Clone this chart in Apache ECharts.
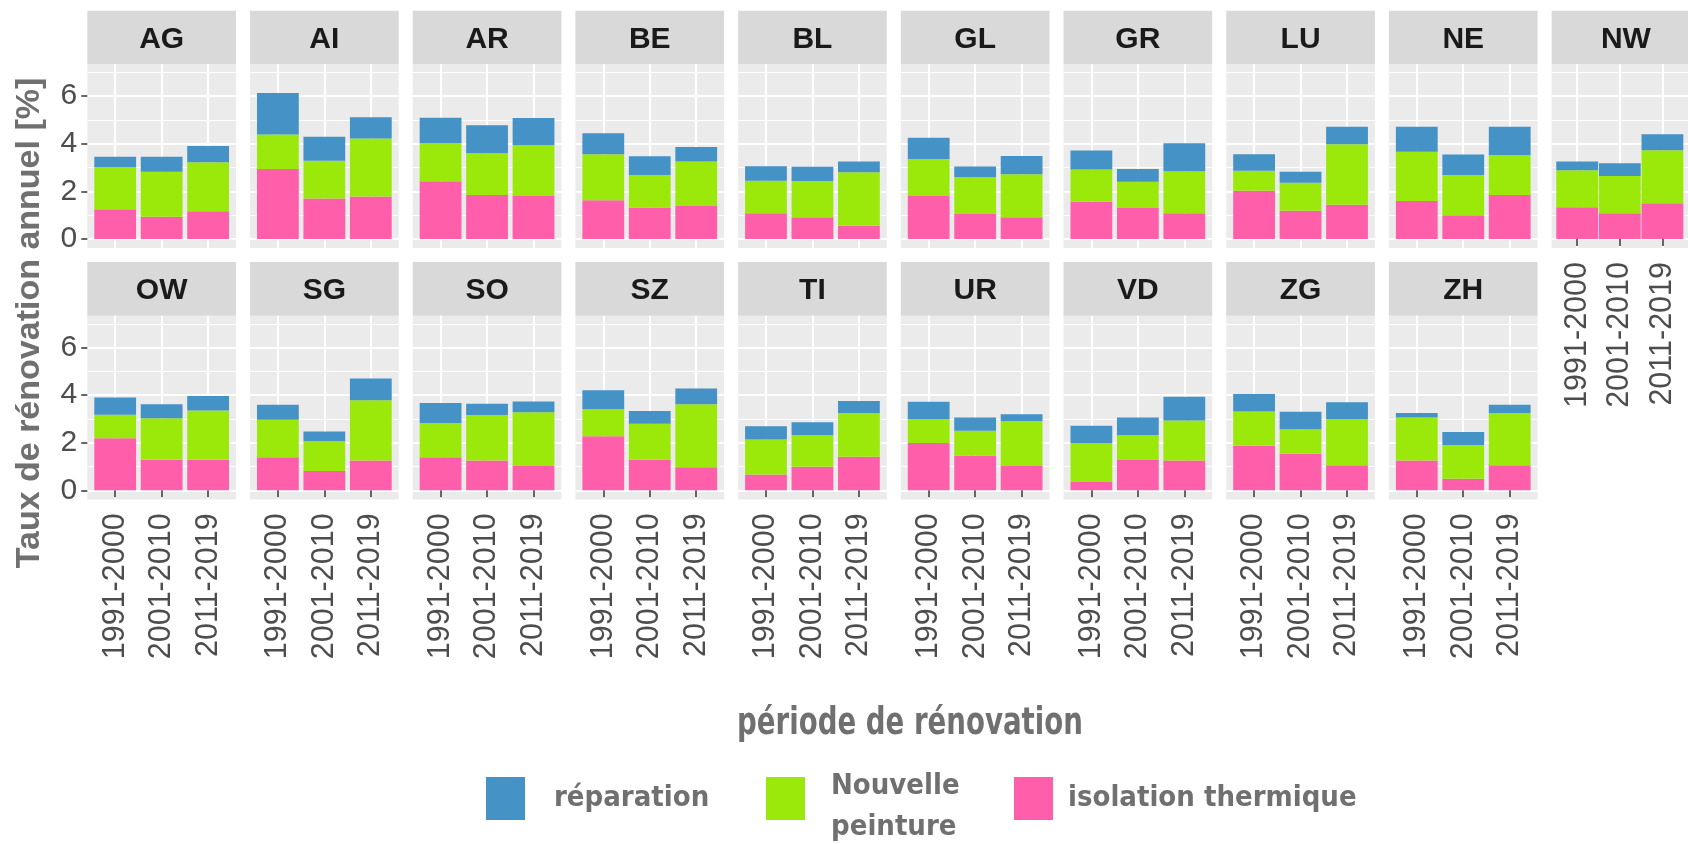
<!DOCTYPE html>
<html>
<head>
<meta charset="utf-8">
<script src="https://cdn.jsdelivr.net/npm/echarts@6/dist/echarts.min.js"></script>
<style>
html, body { margin: 0; padding: 0; background: #fff; }
#main { width: 1688px; height: 844px; }
</style>
</head>
<body>
<div id="main"></div>
<script>
var cantons = ['AG', 'AI', 'AR', 'BE', 'BL', 'GL', 'GR', 'LU', 'NE', 'NW',
               'OW', 'SG', 'SO', 'SZ', 'TI', 'UR', 'VD', 'ZG', 'ZH'];
var periods = ['1991-2000', '2001-2010', '2011-2019'];
var yTicks = [0, 2, 4, 6];

// isolation thermique (bas de la pile), une ligne par canton
var isolation = [
    [1.25, 0.93, 1.16], [2.94, 1.70, 1.78], [2.43, 1.85, 1.81], [1.63, 1.32, 1.39],
    [1.08, 0.91, 0.56], [1.81, 1.05, 0.91], [1.56, 1.30, 1.08], [2.03, 1.19, 1.44],
    [1.60, 1.00, 1.85], [1.33, 1.08, 1.50], [2.19, 1.29, 1.29], [1.39, 0.81, 1.26],
    [1.39, 1.25, 1.02], [2.27, 1.29, 0.97], [0.67, 0.99, 1.41], [1.99, 1.46, 1.02],
    [0.35, 1.28, 1.26], [1.87, 1.54, 1.05], [1.26, 0.49, 1.05]
];
// Nouvelle peinture (milieu)
var peinture = [
    [1.76, 1.89, 2.06], [1.45, 1.59, 2.44], [1.59, 1.75, 2.14], [1.93, 1.37, 1.86],
    [1.37, 1.53, 2.24], [1.55, 1.54, 1.81], [1.36, 1.10, 1.77], [0.84, 1.17, 2.54],
    [2.07, 1.69, 1.68], [1.56, 1.57, 2.23], [0.99, 1.74, 2.07], [1.58, 1.26, 2.53],
    [1.44, 1.92, 2.26], [1.15, 1.51, 2.65], [1.47, 1.34, 1.84], [1.00, 1.05, 1.90],
    [1.63, 1.05, 1.68], [1.44, 1.03, 1.94], [1.80, 1.42, 2.20]
];
// réparation (haut)
var reparation = [
    [0.45, 0.64, 0.69], [1.74, 1.01, 0.90], [1.07, 1.18, 1.13], [0.88, 0.79, 0.61],
    [0.61, 0.59, 0.45], [0.89, 0.45, 0.77], [0.80, 0.54, 1.17], [0.69, 0.46, 0.74],
    [1.05, 0.86, 1.19], [0.36, 0.53, 0.67], [0.72, 0.59, 0.61], [0.63, 0.40, 0.91],
    [0.84, 0.47, 0.45], [0.79, 0.54, 0.66], [0.55, 0.53, 0.51], [0.73, 0.55, 0.28],
    [0.74, 0.73, 0.99], [0.74, 0.73, 0.71], [0.19, 0.54, 0.35]
];

var colRep = '#4592C6', colPein = '#9BE90B', colIso = '#FF5EAA';
var PANEL_LEFT = 87.3, PITCH = 162.7, PANEL_W = 148.7, PANEL_H = 183.7;
var ROW_TOP = [64.3, 315.7], STRIP_H = 53.6;
var axisFont = 'Liberation Sans';
var pptFont = "'DejaVu Sans Condensed', 'Liberation Sans', sans-serif";

var myChart = echarts.init(document.getElementById('main'));

var grids = [], xAxes = [], yAxes = [], series = [], graphics = [];

cantons.forEach(function (c, k) {
    var row = k < 10 ? 0 : 1;
    var col = k < 10 ? k : k - 10;
    var left = PANEL_LEFT + col * PITCH;
    var top = ROW_TOP[row];
    var showX = row === 1 || col === 9;

    grids.push({
        left: left, top: top, width: PANEL_W, height: PANEL_H,
        show: true, backgroundColor: '#EBEBEB', borderWidth: 0
    });
    xAxes.push({
        gridIndex: k, type: 'value', min: 0.4, max: 3.6,
        axisLine: {show: false},
        axisTick: {show: showX, customValues: [1, 2, 3], length: 7,
            lineStyle: {color: '#333', width: 1.5}},
        axisLabel: {show: showX, customValues: [1, 2, 3], rotate: 90, margin: 14,
            fontSize: 30.5, color: '#4D4D4D', fontFamily: axisFont,
            formatter: function (v) { return periods[Math.round(v) - 1]; }},
        splitLine: {show: true, lineStyle: {color: '#fff', width: 2}}
    });
    yAxes.push({
        gridIndex: k, type: 'value', min: -0.38, max: 7.34,
        axisLine: {show: false},
        axisTick: {show: col === 0, customValues: yTicks, length: 6,
            lineStyle: {color: '#333', width: 1.5}},
        axisLabel: {show: col === 0, customValues: yTicks, margin: 10,
            fontSize: 30, color: '#4D4D4D', fontFamily: axisFont},
        splitLine: {show: true, lineStyle: {color: '#fff', width: 2}},
        minorTick: {show: false, splitNumber: 2},
        minorSplitLine: {show: true, lineStyle: {color: '#fff', width: 1}}
    });

    var layers = [
        ['isolation thermique', isolation[k], colIso],
        ['Nouvelle peinture', peinture[k], colPein],
        ['réparation', reparation[k], colRep]
    ];
    layers.forEach(function (l) {
        series.push({
            name: l[0], type: 'bar', stack: 'p' + k,
            xAxisIndex: k, yAxisIndex: k,
            barWidth: 41.8,
            itemStyle: {color: l[2]},
            // valeur en premier pour que l'empilement se fasse sur y
            encode: {x: 1, y: 0},
            data: l[1].map(function (v, i) { return [v, i + 1]; })
        });
    });

    // bandeau du facet
    graphics.push({
        type: 'rect', silent: true,
        shape: {x: left, y: top - STRIP_H, width: PANEL_W, height: STRIP_H},
        style: {fill: '#D9D9D9'}
    });
    graphics.push({
        type: 'text', silent: true,
        x: left + PANEL_W / 2, y: top - STRIP_H / 2 + 2,
        style: {text: c, font: 'bold 30px ' + axisFont, fill: '#1A1A1A',
            align: 'center', verticalAlign: 'middle'}
    });
});

graphics.push({
    type: 'text', silent: true, x: 30, y: 323, rotation: Math.PI / 2,
    style: {text: 'Taux de rénovation annuel [%]', font: 'bold 34px ' + axisFont,
        fill: '#707070', align: 'center', verticalAlign: 'middle'}
});
graphics.push({
    type: 'text', silent: true, x: 910, y: 724, scaleX: 0.83,
    style: {text: 'période de rénovation', font: 'bold 37px ' + pptFont,
        fill: '#707070', align: 'center', verticalAlign: 'middle'}
});
// libellé sur deux lignes de la clé verte (descend sous le bord, comme l'original)
graphics.push({
    type: 'text', silent: true, x: 831, y: 806.5,
    style: {text: 'Nouvelle\npeinture', font: 'bold 29px ' + pptFont, lineHeight: 41,
        fill: '#707070', align: 'left', verticalAlign: 'middle'}
});

function legendAt(name, left, pad) {
    return {
        data: [name], left: left, top: 777, icon: 'rect', padding: 0,
        itemWidth: 39, itemHeight: 43,
        textStyle: {fontFamily: pptFont, fontWeight: 'bold', fontSize: 29,
            color: '#707070', padding: pad},
        formatter: function (n) { return n === 'Nouvelle peinture' ? '' : n; }
    };
}

myChart.setOption({
    animation: false,
    legend: [
        legendAt('réparation', 486, [0, 0, 0, 24]),
        legendAt('Nouvelle peinture', 766, [0, 0, 0, 0]),
        legendAt('isolation thermique', 1014, [0, 0, 0, 10])
    ],
    grid: grids,
    xAxis: xAxes,
    yAxis: yAxes,
    series: series,
    graphic: graphics
});
</script>
</body>
</html>
